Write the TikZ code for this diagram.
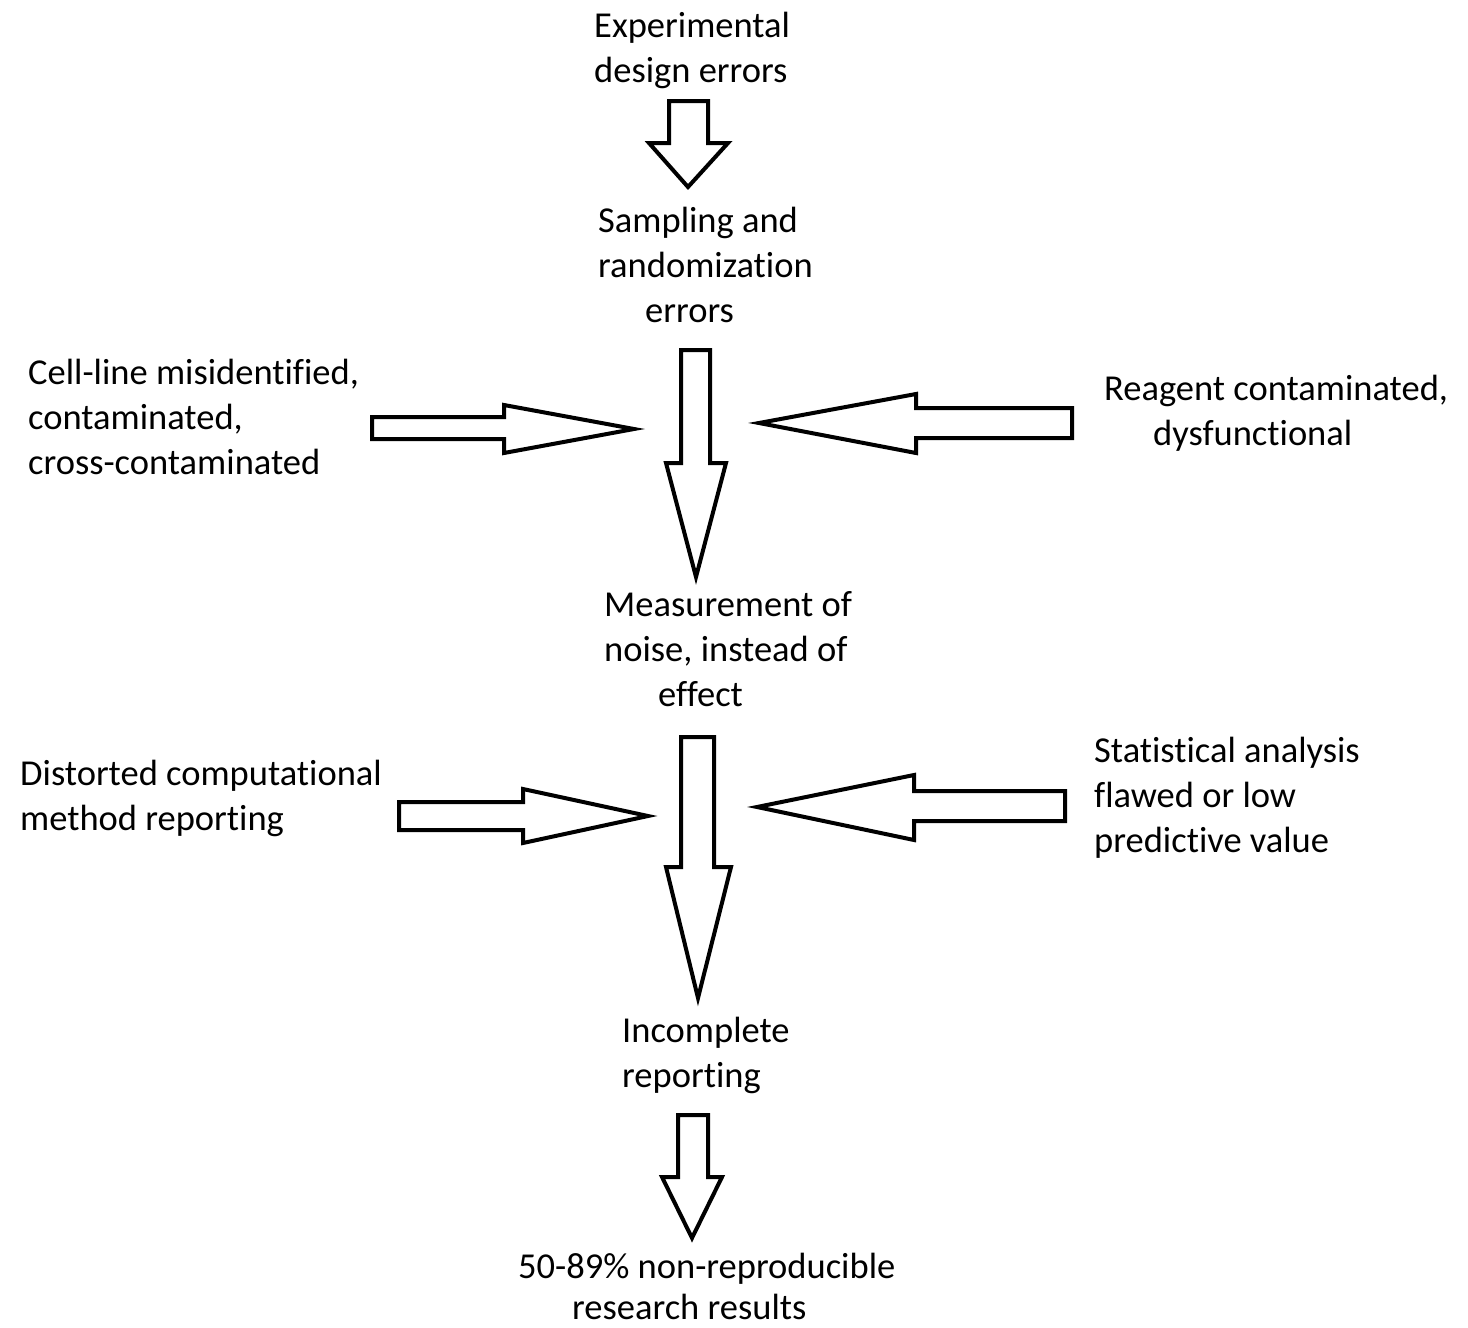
\documentclass[tikz,border=0pt]{standalone}
\usepackage{fontspec}
\setmainfont[Ligatures={NoCommon}]{Carlito}
\begin{document}
\begin{tikzpicture}[x=1pt,y=-1pt,
  blockarrow/.style={draw=black,line width=4pt,fill=white,line join=miter},
  lbl/.style={anchor=base west,inner sep=0pt,align=left,font=\fontsize{36.5}{45}\selectfont}]
\useasboundingbox (0,0) rectangle (1468,1328);
% text labels (anchored at the baseline of their last line)
\node[lbl] (exp)  at (594,82)   {Experimental\\design errors};
\node[lbl] (samp) at (598,322)  {Sampling and\\randomization\\\hspace*{47pt}errors};
\node[lbl] (cell) at (28,474)   {Cell-line misidentified,\\contaminated,\\cross-contaminated};
\node[lbl] (reag) at (1104,445) {Reagent contaminated,\\\hspace*{49pt}dysfunctional};
\node[lbl] (meas) at (604,706)  {Measurement of\\noise, instead of\\\hspace*{54pt}effect};
\node[lbl] (dist) at (20,830)   {Distorted computational\\method reporting};
\node[lbl] (stat) at (1094,852) {Statistical analysis\\flawed or low\\predictive value};
\node[lbl] (inc)  at (622,1087) {Incomplete\\reporting};
\node[lbl,font=\fontsize{36.5}{41}\selectfont] (res) at (518,1319) {50-89\% non-reproducible\\\hspace*{54pt}research results};
% block arrows
\draw[blockarrow] (669,101) -- (708,101) -- (708,143) -- (728,143) -- (688,187) -- (649,143) -- (669,143) -- cycle;
\draw[blockarrow] (681,350) -- (710,350) -- (710,463) -- (726,463) -- (696,577) -- (666,463) -- (681,463) -- cycle;
\draw[blockarrow] (372,417) -- (504,417) -- (504,405) -- (634,429) -- (504,453) -- (504,439) -- (372,439) -- cycle;
\draw[blockarrow] (1072,408) -- (916,408) -- (916,394) -- (759,423) -- (916,453) -- (916,438) -- (1072,438) -- cycle;
\draw[blockarrow] (681,737) -- (714,737) -- (714,867) -- (731,867) -- (698,998) -- (666,867) -- (681,867) -- cycle;
\draw[blockarrow] (399,802) -- (523,802) -- (523,789) -- (648,816) -- (523,843) -- (523,830) -- (399,830) -- cycle;
\draw[blockarrow] (1065,791) -- (914,791) -- (914,775) -- (757,807) -- (914,840) -- (914,821) -- (1065,821) -- cycle;
\draw[blockarrow] (678,1115) -- (708,1115) -- (708,1177) -- (722,1177) -- (692,1238) -- (662,1177) -- (678,1177) -- cycle;
\end{tikzpicture}
\end{document}
